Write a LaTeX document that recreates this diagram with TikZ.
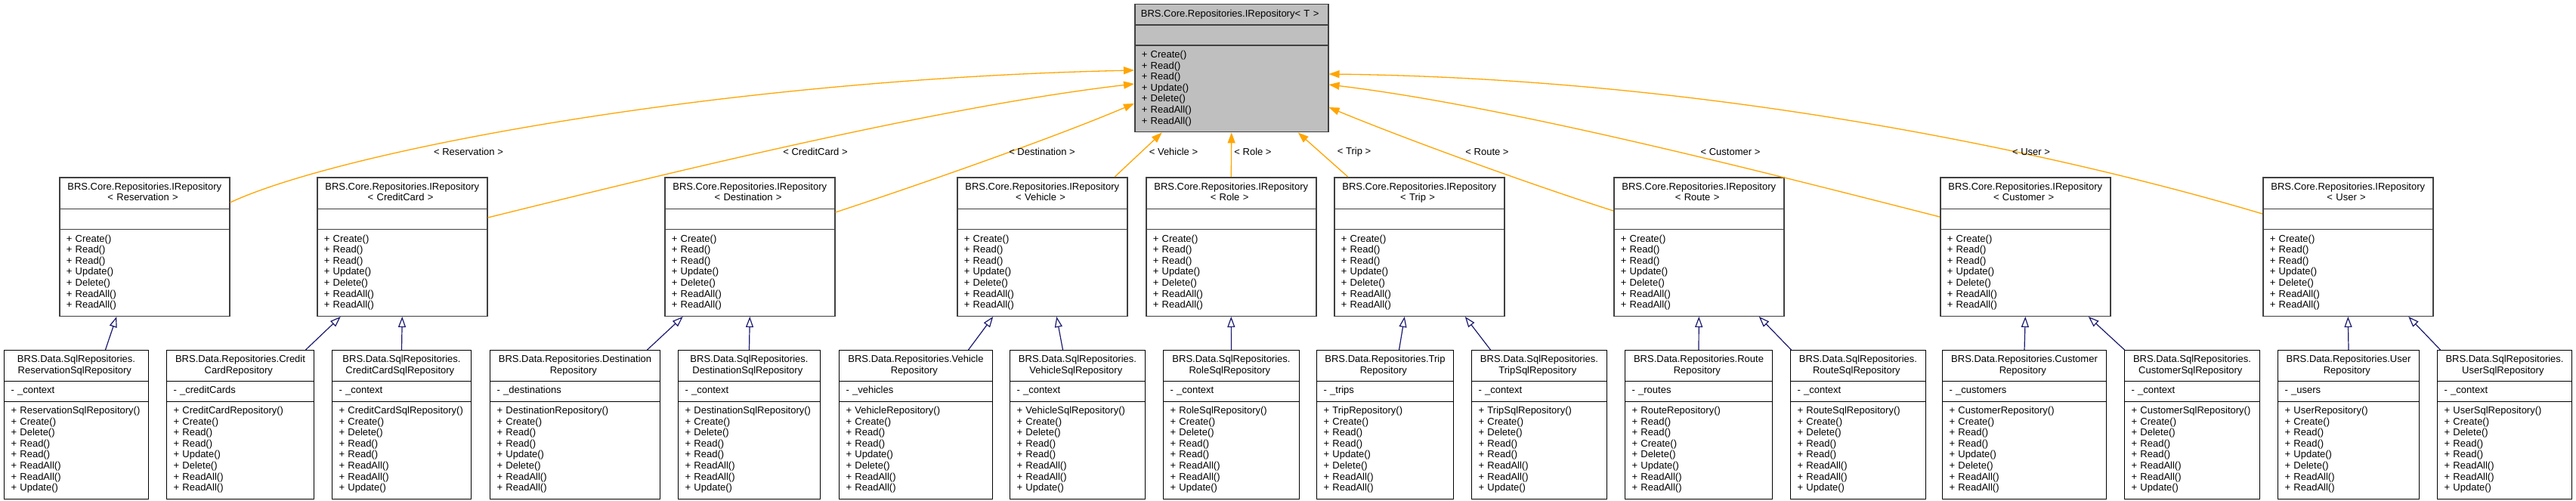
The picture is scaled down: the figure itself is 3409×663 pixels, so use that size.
\documentclass[tikz,border=0pt]{standalone}
\usepackage{fontspec}
\setmainfont{Liberation Sans}
\usepackage{tikz}
\usetikzlibrary{shapes.multipart}
\usetikzlibrary{arrows.meta}
\definecolor{bindorange}{HTML}{FFA500}
\definecolor{derivblue}{HTML}{191970}
\definecolor{ifacegray}{HTML}{BFBFBF}

\begin{document}
\begin{tikzpicture}[x=1pt, y=-1pt,
    class style/.style={rectangle split, rectangle split parts=3, draw, fill=white,
        anchor=north west, align=left, inner xsep=9pt, inner ysep=5.5pt,
        font=\fontsize{13}{14.6}\selectfont,
        execute at begin node=\strut, execute at end node=\strut},
    every text node part/.style={align=center},
    iface style/.style={class style, draw=black!75, line width=1.5pt, text width=207pt},
    impl style/.style={class style, draw=black, line width=1pt},
    template edge/.style={draw=bindorange, line width=1.3pt, -{Triangle[length=14pt,width=10pt]}},
    derived edge/.style={draw=derivblue, line width=1.2pt, -{Triangle[length=14pt,width=10pt,fill=white]}},
    edge label/.style={font=\fontsize{13}{14.6}\selectfont, inner sep=1pt}
]
\fill[white] (0,0) rectangle (3409,663);
\useasboundingbox (0,0) rectangle (3409,663);

% generic interface
\node[class style, draw=black!75, fill=ifacegray, line width=1.5pt, inner xsep=5pt, text width=246pt] (top) at (1501,5)
    {BRS.Core.Repositories.IRepository<~T~>
     \nodepart{two}
     \nodepart{three}\hspace*{4pt}+ Create()\\\hspace*{4pt}+ Read()\\\hspace*{4pt}+ Read()\\\hspace*{4pt}+ Update()\\\hspace*{4pt}+ Delete()\\\hspace*{4pt}+ ReadAll()\\\hspace*{4pt}+ ReadAll()};

% bound interfaces
\node[iface style] (res) at (78,234)
    {BRS.Core.Repositories.IRepository\\< Reservation >
     \nodepart{two}
     \nodepart{three}+ Create()\\+ Read()\\+ Read()\\+ Update()\\+ Delete()\\+ ReadAll()\\+ ReadAll()};
\node[iface style] (cc) at (419,234)
    {BRS.Core.Repositories.IRepository\\< CreditCard >
     \nodepart{two}
     \nodepart{three}+ Create()\\+ Read()\\+ Read()\\+ Update()\\+ Delete()\\+ ReadAll()\\+ ReadAll()};
\node[iface style] (dest) at (879,234)
    {BRS.Core.Repositories.IRepository\\< Destination >
     \nodepart{two}
     \nodepart{three}+ Create()\\+ Read()\\+ Read()\\+ Update()\\+ Delete()\\+ ReadAll()\\+ ReadAll()};
\node[iface style] (veh) at (1266,234)
    {BRS.Core.Repositories.IRepository\\< Vehicle >
     \nodepart{two}
     \nodepart{three}+ Create()\\+ Read()\\+ Read()\\+ Update()\\+ Delete()\\+ ReadAll()\\+ ReadAll()};
\node[iface style] (role) at (1516,234)
    {BRS.Core.Repositories.IRepository\\< Role >
     \nodepart{two}
     \nodepart{three}+ Create()\\+ Read()\\+ Read()\\+ Update()\\+ Delete()\\+ ReadAll()\\+ ReadAll()};
\node[iface style] (trip) at (1765,234)
    {BRS.Core.Repositories.IRepository\\< Trip >
     \nodepart{two}
     \nodepart{three}+ Create()\\+ Read()\\+ Read()\\+ Update()\\+ Delete()\\+ ReadAll()\\+ ReadAll()};
\node[iface style] (route) at (2135,234)
    {BRS.Core.Repositories.IRepository\\< Route >
     \nodepart{two}
     \nodepart{three}+ Create()\\+ Read()\\+ Read()\\+ Update()\\+ Delete()\\+ ReadAll()\\+ ReadAll()};
\node[iface style] (cust) at (2567,234)
    {BRS.Core.Repositories.IRepository\\< Customer >
     \nodepart{two}
     \nodepart{three}+ Create()\\+ Read()\\+ Read()\\+ Update()\\+ Delete()\\+ ReadAll()\\+ ReadAll()};
\node[iface style] (user) at (2994,234)
    {BRS.Core.Repositories.IRepository\\< User >
     \nodepart{two}
     \nodepart{three}+ Create()\\+ Read()\\+ Read()\\+ Update()\\+ Delete()\\+ ReadAll()\\+ ReadAll()};

% implementations
\node[impl style, text width=173pt] (resSql) at (5,463)
    {BRS.Data.SqlRepositories.\\ReservationSqlRepository
     \nodepart{two}- \_context
     \nodepart{three}+ ReservationSqlRepository()\\+ Create()\\+ Delete()\\+ Read()\\+ Read()\\+ ReadAll()\\+ ReadAll()\\+ Update()};
\node[impl style, text width=177pt] (ccRepo) at (220,463)
    {BRS.Data.Repositories.Credit\\CardRepository
     \nodepart{two}- \_creditCards
     \nodepart{three}+ CreditCardRepository()\\+ Create()\\+ Read()\\+ Read()\\+ Update()\\+ Delete()\\+ ReadAll()\\+ ReadAll()};
\node[impl style, text width=166pt] (ccSql) at (439,463)
    {BRS.Data.SqlRepositories.\\CreditCardSqlRepository
     \nodepart{two}- \_context
     \nodepart{three}+ CreditCardSqlRepository()\\+ Create()\\+ Delete()\\+ Read()\\+ Read()\\+ ReadAll()\\+ ReadAll()\\+ Update()};
\node[impl style, text width=207pt] (destRepo) at (648,463)
    {BRS.Data.Repositories.Destination\\Repository
     \nodepart{two}- \_destinations
     \nodepart{three}+ DestinationRepository()\\+ Create()\\+ Read()\\+ Read()\\+ Update()\\+ Delete()\\+ ReadAll()\\+ ReadAll()};
\node[impl style, text width=170pt] (destSql) at (897,463)
    {BRS.Data.SqlRepositories.\\DestinationSqlRepository
     \nodepart{two}- \_context
     \nodepart{three}+ DestinationSqlRepository()\\+ Create()\\+ Delete()\\+ Read()\\+ Read()\\+ ReadAll()\\+ ReadAll()\\+ Update()};
\node[impl style, text width=185pt] (vehRepo) at (1110,463)
    {BRS.Data.Repositories.Vehicle\\Repository
     \nodepart{two}- \_vehicles
     \nodepart{three}+ VehicleRepository()\\+ Create()\\+ Read()\\+ Read()\\+ Update()\\+ Delete()\\+ ReadAll()\\+ ReadAll()};
\node[impl style, text width=161pt] (vehSql) at (1336,463)
    {BRS.Data.SqlRepositories.\\VehicleSqlRepository
     \nodepart{two}- \_context
     \nodepart{three}+ VehicleSqlRepository()\\+ Create()\\+ Delete()\\+ Read()\\+ Read()\\+ ReadAll()\\+ ReadAll()\\+ Update()};
\node[impl style, text width=162pt] (roleSql) at (1539,463)
    {BRS.Data.SqlRepositories.\\RoleSqlRepository
     \nodepart{two}- \_context
     \nodepart{three}+ RoleSqlRepository()\\+ Create()\\+ Delete()\\+ Read()\\+ Read()\\+ ReadAll()\\+ ReadAll()\\+ Update()};
\node[impl style, text width=163pt] (tripRepo) at (1742,463)
    {BRS.Data.Repositories.Trip\\Repository
     \nodepart{two}- \_trips
     \nodepart{three}+ TripRepository()\\+ Create()\\+ Read()\\+ Read()\\+ Update()\\+ Delete()\\+ ReadAll()\\+ ReadAll()};
\node[impl style, text width=161pt] (tripSql) at (1947,463)
    {BRS.Data.SqlRepositories.\\TripSqlRepository
     \nodepart{two}- \_context
     \nodepart{three}+ TripSqlRepository()\\+ Create()\\+ Delete()\\+ Read()\\+ Read()\\+ ReadAll()\\+ ReadAll()\\+ Update()};
\node[impl style, text width=177pt] (routeRepo) at (2150,463)
    {BRS.Data.Repositories.Route\\Repository
     \nodepart{two}- \_routes
     \nodepart{three}+ RouteRepository()\\+ Read()\\+ Read()\\+ Create()\\+ Delete()\\+ Update()\\+ ReadAll()\\+ ReadAll()};
\node[impl style, text width=161pt] (routeSql) at (2369,463)
    {BRS.Data.SqlRepositories.\\RouteSqlRepository
     \nodepart{two}- \_context
     \nodepart{three}+ RouteSqlRepository()\\+ Create()\\+ Delete()\\+ Read()\\+ Read()\\+ ReadAll()\\+ ReadAll()\\+ Update()};
\node[impl style, text width=199pt] (custRepo) at (2570,463)
    {BRS.Data.Repositories.Customer\\Repository
     \nodepart{two}- \_customers
     \nodepart{three}+ CustomerRepository()\\+ Create()\\+ Read()\\+ Read()\\+ Update()\\+ Delete()\\+ ReadAll()\\+ ReadAll()};
\node[impl style, text width=161pt] (custSql) at (2811,463)
    {BRS.Data.SqlRepositories.\\CustomerSqlRepository
     \nodepart{two}- \_context
     \nodepart{three}+ CustomerSqlRepository()\\+ Create()\\+ Delete()\\+ Read()\\+ Read()\\+ ReadAll()\\+ ReadAll()\\+ Update()};
\node[impl style, text width=169pt] (userRepo) at (3014,463)
    {BRS.Data.Repositories.User\\Repository
     \nodepart{two}- \_users
     \nodepart{three}+ UserRepository()\\+ Create()\\+ Read()\\+ Read()\\+ Update()\\+ Delete()\\+ ReadAll()\\+ ReadAll()};
\node[impl style, text width=160pt] (userSql) at (3225,463)
    {BRS.Data.SqlRepositories.\\UserSqlRepository
     \nodepart{two}- \_context
     \nodepart{three}+ UserSqlRepository()\\+ Create()\\+ Delete()\\+ Read()\\+ Read()\\+ ReadAll()\\+ ReadAll()\\+ Update()};

% template bindings
\draw[template edge] ([yshift=-34pt]res.north east) .. controls (450,200) and (950,105) .. ([yshift=-88pt]top.north west);
\draw[template edge] ([yshift=-54pt]cc.north east) .. controls (900,225) and (1250,140) .. ([yshift=-106pt]top.north west);
\draw[template edge] ([yshift=-47pt]dest.north east) .. controls (1230,240) and (1400,180) .. ([yshift=-132pt]top.north west);
\draw[template edge] ([xshift=96pt]veh.north) -- ([xshift=-92pt]top.south);
\draw[template edge] (role.north) -- (top.south);
\draw[template edge] ([xshift=-94.5pt]trip.north) -- ([xshift=88pt]top.south);
\draw[template edge] ([yshift=-45pt]route.north west) .. controls (2013,240) and (1850,180) .. ([yshift=-137pt]top.north east);
\draw[template edge] ([yshift=-53pt]cust.north west) .. controls (2324,225) and (1991,140) .. ([yshift=-107pt]top.north east);
\draw[template edge] ([yshift=-49pt]user.north west) .. controls (2800,225) and (2324,105) .. ([yshift=-93pt]top.north east);

\node[edge label] (lres) at (620,201) {< Reservation >};
\node[edge label] (lcc) at (1079,201) {< CreditCard >};
\node[edge label] (ldest) at (1379,201) {< Destination >};
\node[edge label] (lveh) at (1553,201) {< Vehicle >};
\node[edge label] (lrole) at (1658,201) {< Role >};
\node[edge label] (ltrip) at (1792,201) {< Trip >};
\node[edge label] (lroute) at (1968,201) {< Route >};
\node[edge label] (lcust) at (2290,201) {< Customer >};
\node[edge label] (luser) at (2688,201) {< User >};

% implementation edges
\draw[derived edge] ([xshift=38.5pt]resSql.north) -- ([xshift=-37pt]res.south);
\draw[derived edge] ([xshift=86.5pt]ccRepo.north) -- ([xshift=-81.5pt]cc.south);
\draw[derived edge] (ccSql.north) -- (cc.south);
\draw[derived edge] ([xshift=95.5pt]destRepo.north) -- ([xshift=-88.5pt]dest.south);
\draw[derived edge] (destSql.north) -- (dest.south);
\draw[derived edge] ([xshift=69.5pt]vehRepo.north) -- ([xshift=-65pt]veh.south);
\draw[derived edge] ([xshift=-19.5pt]vehSql.north) -- ([xshift=19pt]veh.south);
\draw[derived edge] (roleSql.north) -- (role.south);
\draw[derived edge] ([xshift=18.5pt]tripRepo.north) -- ([xshift=-19.5pt]trip.south);
\draw[derived edge] ([xshift=-64.5pt]tripSql.north) -- ([xshift=60.5pt]trip.south);
\draw[derived edge] (routeRepo.north) -- (route.south);
\draw[derived edge] ([xshift=-88.5pt]routeSql.north) -- ([xshift=79.5pt]route.south);
\draw[derived edge] (custRepo.north) -- (cust.south);
\draw[derived edge] ([xshift=-89.5pt]custSql.north) -- ([xshift=83.5pt]cust.south);
\draw[derived edge] (userRepo.north) -- (user.south);
\draw[derived edge] ([xshift=-85pt]userSql.north) -- ([xshift=80pt]user.south);
\end{tikzpicture}
\end{document}
